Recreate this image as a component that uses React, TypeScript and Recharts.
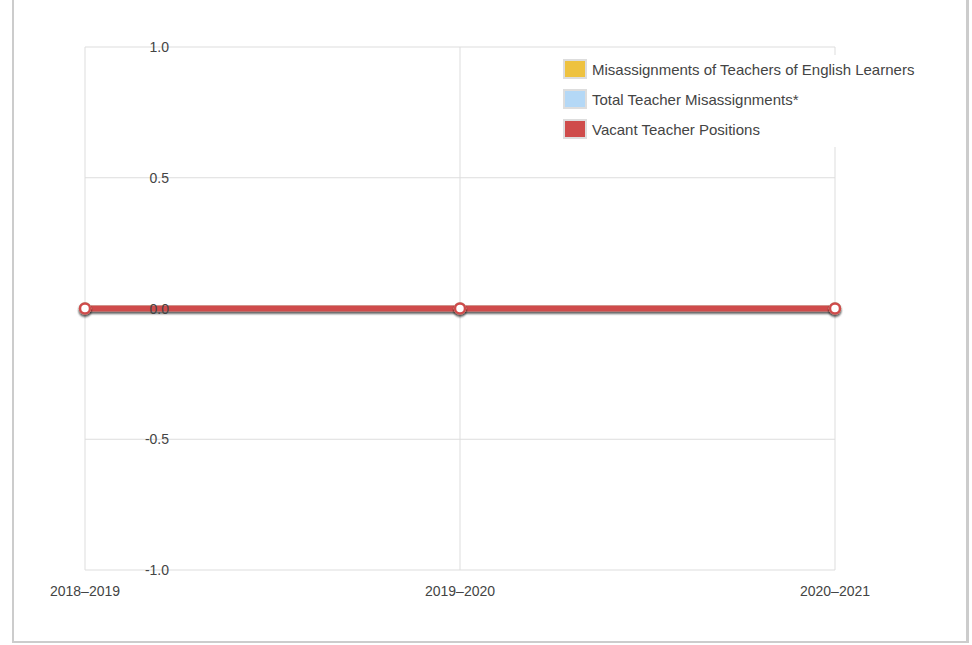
import { CartesianGrid, Line, LineChart, XAxis, YAxis } from "recharts";

const years = ["2018–2019", "2019–2020", "2020–2021"];
const elMisassignments = [0, 0, 0];
const totalMisassignments = [0, 0, 0];
const vacantPositions = [0, 0, 0];
const yTicks = [-1, -0.5, 0, 0.5, 1];

const series = [
  { key: "el", name: "Misassignments of Teachers of English Learners", color: "#eec240" },
  { key: "total", name: "Total Teacher Misassignments*", color: "#b4d8f6" },
  { key: "vacant", name: "Vacant Teacher Positions", color: "#cf4c4b" },
];

const data = years.map((year, i) => ({
  year,
  el: elMisassignments[i],
  total: totalMisassignments[i],
  vacant: vacantPositions[i],
}));

const font = "'Liberation Sans', Arial, sans-serif";

// labels sit inside the plot, right-aligned about 84px from the left edge
function YTick({ x, y, payload }: any) {
  return (
    <text x={x + 84} y={y} textAnchor="end" dominantBaseline="central" fontSize={14} fill="#444" fontFamily={font}>
      {payload.value.toFixed(1)}
    </text>
  );
}

function XTick({ x, y, payload }: any) {
  return (
    <text x={x} y={y + 13} textAnchor="middle" dominantBaseline="central" fontSize={14} fill="#444" fontFamily={font}>
      {payload.value}
    </text>
  );
}

export default function App() {
  return (
    <div
      style={{
        position: "absolute",
        left: 12,
        top: 0,
        width: 952,
        height: 641,
        borderLeft: "2px solid #ccc",
        borderRight: "3px solid #ccc",
        borderBottom: "2px solid #ccc",
        background: "#fff",
      }}
    >
      <LineChart width={952} height={641} data={data} margin={{ top: 47, right: 131, bottom: 41, left: 71 }}>
        <defs>
          <filter id="lineShadow" filterUnits="userSpaceOnUse" x="0" y="0" width="952" height="641">
            <feDropShadow dx="0" dy="2" stdDeviation="1" floodColor="#000" floodOpacity="0.3" />
          </filter>
        </defs>
        <CartesianGrid stroke="#ddd" strokeWidth={1} />
        <XAxis dataKey="year" height={30} axisLine={false} tickLine={false} tick={<XTick />} interval={0} />
        {series.map((s) => (
          <Line
            key={s.key}
            dataKey={s.key}
            name={s.name}
            stroke={s.color}
            strokeWidth={6}
            dot={{ r: 5, fill: "#fff", stroke: s.color, strokeWidth: 2.5 }}
            style={{ filter: "url(#lineShadow)" }}
            isAnimationActive={false}
          />
        ))}
        <YAxis
          domain={[-1, 1]}
          ticks={yTicks}
          mirror
          axisLine={false}
          tickLine={false}
          tickSize={0}
          tickMargin={0}
          tick={<YTick />}
        />
      </LineChart>
      <div
        style={{
          position: "absolute",
          left: 546,
          top: 55,
          width: 370,
          height: 92,
          background: "#fff",
          fontFamily: font,
          fontSize: 15,
          color: "#444",
        }}
      >
        {series.map((s, i) => (
          <div
            key={s.key}
            style={{ position: "absolute", left: 3, top: 4 + i * 30, display: "flex", alignItems: "center", whiteSpace: "nowrap" }}
          >
            <span
              style={{
                display: "inline-block",
                width: 20,
                height: 16,
                background: s.color,
                border: "2px solid #ddd",
                marginRight: 5,
              }}
            />
            {s.name}
          </div>
        ))}
      </div>
    </div>
  );
}
